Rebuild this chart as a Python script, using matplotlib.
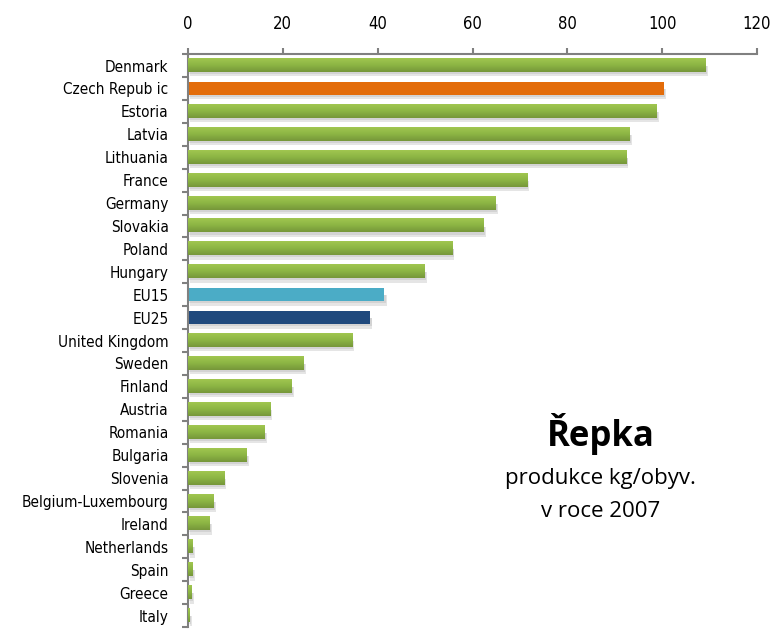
import numpy as np
import matplotlib
matplotlib.use('Agg')
import matplotlib.pyplot as plt
from matplotlib.colors import LinearSegmentedColormap

# --- DATA ---
countries = ['Denmark', 'Czech Repub ic', 'Estoria', 'Latvia', 'Lithuania', 'France',
             'Germany', 'Slovakia', 'Poland', 'Hungary', 'EU15', 'EU25',
             'United Kingdom', 'Sweden', 'Finland', 'Austria', 'Romania', 'Bulgaria',
             'Slovenia', 'Belgium-Luxembourg', 'Ireland', 'Netherlands', 'Spain',
             'Greece', 'Italy']
values = [109.1, 100.4, 98.9, 93.2, 92.4, 71.5, 64.8, 62.4, 55.7, 49.8, 41.4, 38.4,
          34.6, 24.3, 21.9, 17.3, 16.2, 12.4, 7.6, 5.4, 4.6, 1.05, 1.05, 0.8, 0.4]
x_ticks = [0, 20, 40, 60, 80, 100, 120]

GREEN = '#8db744'
special = {'Czech Repub ic': '#e36c0a', 'EU15': '#4bacc6', 'EU25': '#1f497d'}
colors = [special.get(c, GREEN) for c in countries]

green_grad = LinearSegmentedColormap.from_list('g', ['#a0c650', '#8cb544', '#76973a'])
grad = np.linspace(0, 1, 32).reshape(-1, 1)

fig = plt.figure(figsize=(7.76, 6.34), dpi=100)
ax = fig.add_axes([0.2423, 0.011, 0.7332, 0.9037])

y = np.arange(len(countries))
h = 0.57
# soft shadow under bars
ax.barh(y + 0.25, values, height=0.45, left=0.5, color='#000000', alpha=0.10, zorder=1)
ax.barh(y + 0.2, values, height=0.35, left=0.3, color='#000000', alpha=0.08, zorder=1)
bars = ax.barh(y, values, height=h, color=colors, zorder=2)
for yi, v, c in zip(y, values, colors):
    if c == GREEN:
        ax.imshow(grad, cmap=green_grad, aspect='auto', zorder=3,
                  extent=(0, v, yi + h / 2, yi - h / 2), interpolation='bilinear')

ax.set_xlim(0, 120)
ax.set_ylim(len(countries) - 0.5, -0.5)
ax.set_xticks(x_ticks)
ax.xaxis.tick_top()
ax.set_yticks(y)
ax.set_yticklabels(countries)
ax.set_yticks(np.arange(-0.5, len(countries), 1), minor=True)

for lbl in ax.get_yticklabels():
    lbl.set_family('DejaVu Sans')
    lbl.set_stretch('condensed')
    lbl.set_fontsize(11)
for lbl in ax.get_xticklabels():
    lbl.set_family('DejaVu Sans')
    lbl.set_stretch('condensed')
    lbl.set_fontsize(12)

ax.tick_params(axis='y', which='major', length=0, pad=14)
ax.tick_params(axis='y', which='minor', length=4, color='#808080', width=1.5)
ax.tick_params(axis='x', which='major', length=4, color='#808080', width=1.5, pad=11.5)

for side in ['right', 'bottom']:
    ax.spines[side].set_visible(False)
for side in ['left', 'top']:
    ax.spines[side].set_color('#808080')
    ax.spines[side].set_linewidth(1.5)

fig.text(0.774, 0.316, 'Řepka', fontsize=25, fontweight='bold', ha='center', va='center',
         family='Open Sans')
fig.text(0.774, 0.246, 'produkce kg/obyv.', fontsize=16, ha='center', va='center',
         family='Open Sans')
fig.text(0.774, 0.194, 'v roce 2007', fontsize=16, ha='center', va='center',
         family='Open Sans')

fig.savefig('out.png', dpi=100)
